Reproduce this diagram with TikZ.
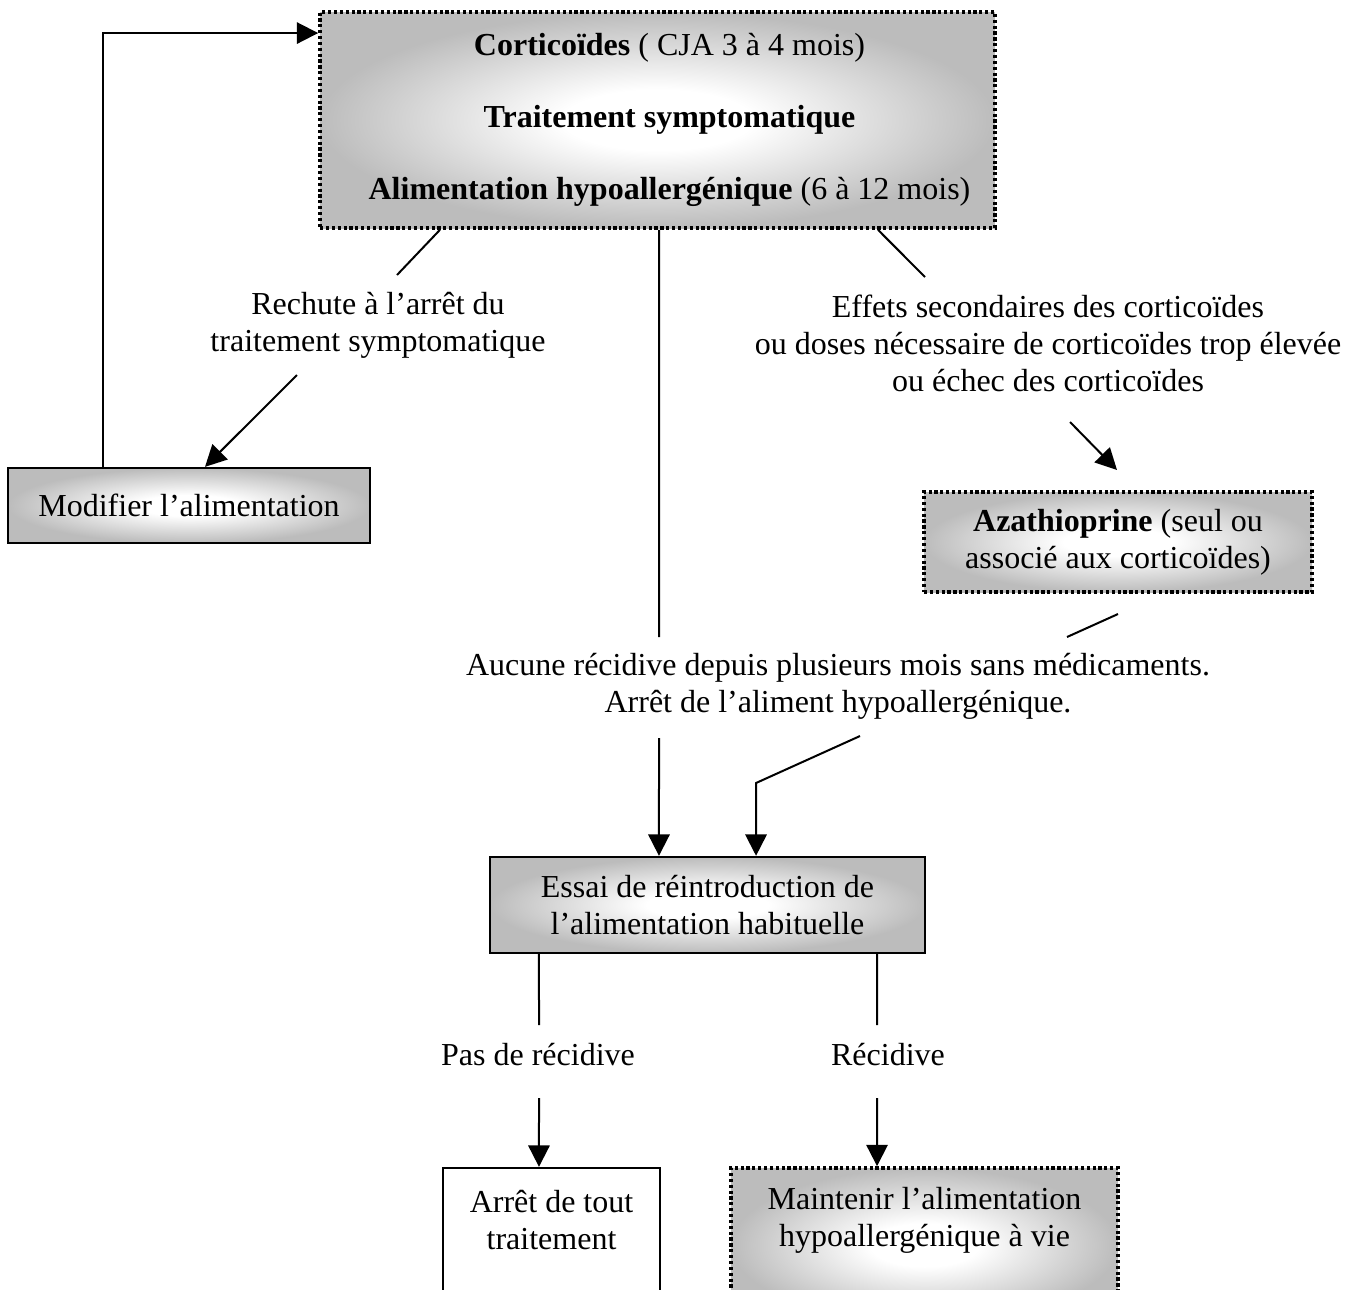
\documentclass[tikz,border=0pt]{standalone}
\usepackage{fontspec}
\setmainfont{Liberation Serif}
\usetikzlibrary{arrows.meta}
\definecolor{boxgray}{RGB}{188,188,188}
\pgfdeclareradialshading{wordgrad}{\pgfpointorigin}{color(0bp)=(white); color(7bp)=(white); color(25bp)=(boxgray); color(50bp)=(boxgray)}
\begin{document}
\begin{tikzpicture}[x=0.375pt,y=-0.375pt,
  font=\fontsize{12}{13.9}\selectfont,
  conn/.style={line width=0.75pt},
  arr/.style={conn,-{Triangle[length=8pt,width=8pt]}},
  solidbox/.style={draw,line width=0.9pt,shading=wordgrad,align=center,inner sep=0pt},
  dotbox/.style={draw,line width=1.4pt,dash pattern=on 1.2pt off 1.0pt,shading=wordgrad,align=center,inner sep=0pt},
  plainbox/.style={draw,line width=0.9pt,fill=white,inner sep=0pt},
  lbl/.style={align=center,inner sep=0pt}]
\useasboundingbox (0,0) rectangle (1360,1289);
\clip (0,0) rectangle (1360,1289);

% boxes
\node[dotbox,minimum width=253.1pt,minimum height=81pt] (top) at (657.5,120)
  {\hspace*{9pt}\textbf{Corticoïdes} ( CJA 3 à 4 mois)\\[13pt]\hspace*{9pt}\textbf{Traitement symptomatique}\\[13pt]\hspace*{9pt}\textbf{Alimentation hypoallergénique} (6 à 12 mois)};
\node[solidbox,minimum width=135.75pt,minimum height=28.1pt] (mod) at (189,505.5) {Modifier l’alimentation};
\node[dotbox,minimum width=145.5pt,minimum height=37.5pt] (aza) at (1118,542)
  {\textbf{Azathioprine} (seul ou\\associé aux corticoïdes)};
\node[solidbox,minimum width=163.1pt,minimum height=36pt] (essai) at (707.5,905)
  {Essai de réintroduction de\\l’alimentation habituelle};
\node[plainbox,minimum width=81.4pt,minimum height=57.75pt] (arret) at (551.5,1245) {};
\node[dotbox,minimum width=145.1pt,minimum height=57.75pt] (maint) at (924.5,1245) {};
\node[lbl] (arrett) at (551.5,1220) {Arrêt de tout\\traitement};
\node[lbl] (maintt) at (924.5,1220) {Maintenir l’alimentation\\hypoallergénique à vie};

% labels
\node[lbl] (rechute) at (378,325) {Rechute à l’arrêt du\\traitement symptomatique};
\node[lbl] (effets) at (1048,343) {Effets secondaires des corticoïdes\\ou doses nécessaire de corticoïdes trop élevée\\ou échec des corticoïdes};
\node[lbl] (aucune) at (838,686) {Aucune récidive depuis plusieurs mois sans médicaments.\\Arrêt de l’aliment hypoallergénique.};
\node[lbl] (pas) at (538,1055) {Pas de récidive};
\node[lbl] (recid) at (888,1055) {Récidive};

% free ends
\coordinate (r1) at (397,275);
\coordinate (r2) at (297,375);
\coordinate (m1) at (659,637);
\coordinate (m2) at (659,738);
\coordinate (e1) at (925,277);
\coordinate (e2) at (1070,422);
\coordinate (e3) at (1117,470);
\coordinate (a1) at (1118,614);
\coordinate (a2) at (1067,637);
\coordinate (b1) at (860,736);
\coordinate (b2) at (756,783);
\coordinate (p1) at (539,1025);
\coordinate (p2) at (539,1098);
\coordinate (q1) at (877,1025);
\coordinate (q2) at (877,1098);

% connectors
\draw[arr] ([xshift=36pt]mod.north west) |- ([yshift=-8.6pt]top.north west);
\draw[conn] ([xshift=-81.6pt]top.south) -- (r1);
\draw[arr] (r2) -- ([xshift=6pt]mod.north);
\draw[conn] ([xshift=0.6pt]top.south) -- (m1);
\draw[arr] (m2) -- ([xshift=-18.2pt]essai.north);
\draw[conn] ([xshift=82.7pt]top.south) -- (e1);
\draw[arr] (e2) -- (e3);
\draw[conn] (a1) -- (a2);
\draw[arr] (b1) -- (b2) -- ([xshift=18.2pt]essai.north);
\draw[conn] ([xshift=-63.2pt]essai.south) -- (p1);
\draw[conn] ([xshift=63.6pt]essai.south) -- (q1);
\draw[arr] (p2) -- ([xshift=-4.7pt]arret.north);
\draw[arr] (q2) -- ([xshift=-17.8pt]maint.north);
\end{tikzpicture}
\end{document}
